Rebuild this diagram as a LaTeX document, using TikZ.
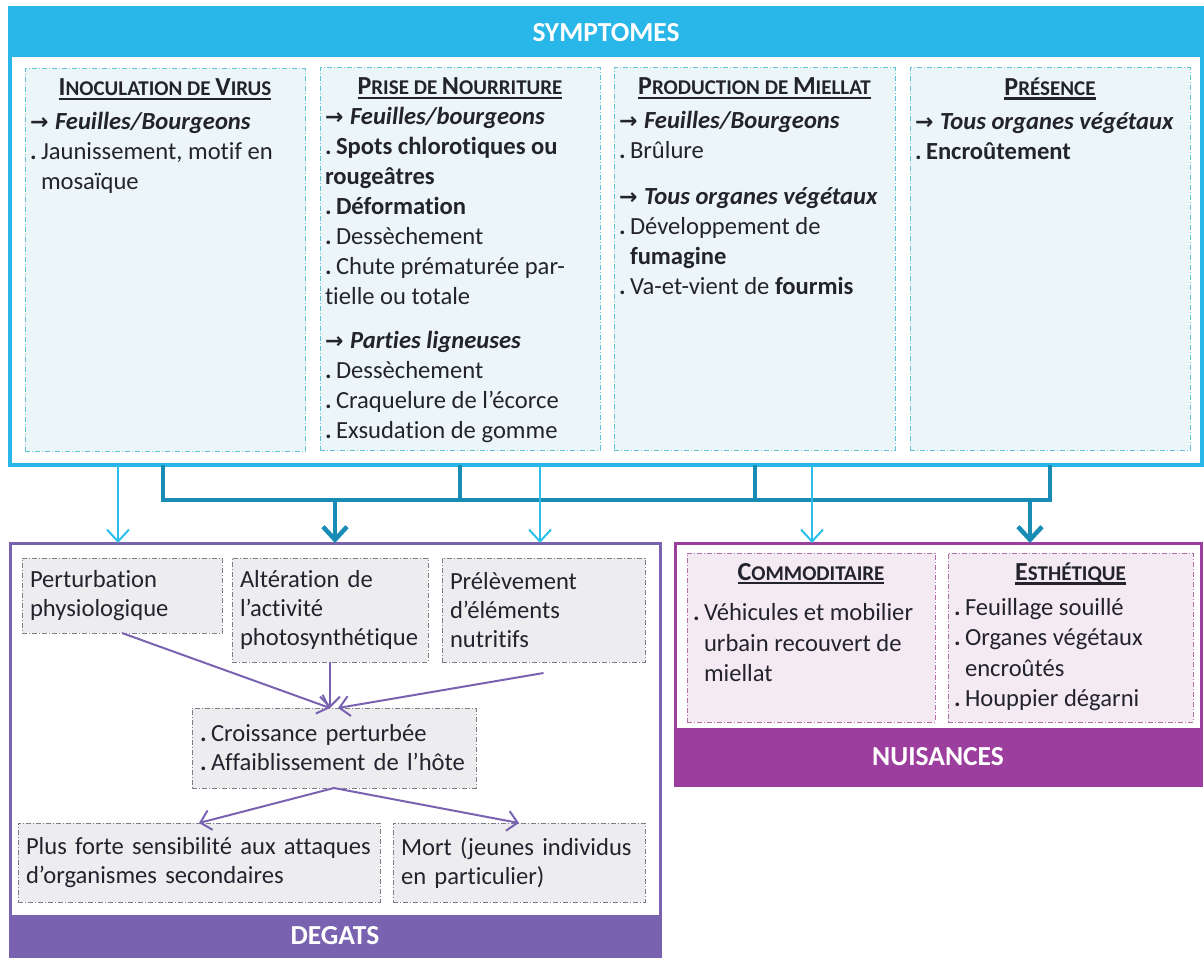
\documentclass[tikz,border=0pt]{standalone}
\usepackage{fontspec}
\setmainfont{Carlito}[Ligatures=NoCommon]
\newfontfamily\arrfont{DejaVu Sans}
\usetikzlibrary{arrows.meta}
\definecolor{symcyan}{RGB}{41,182,232}
\definecolor{arrcyan}{RGB}{45,190,236}
\definecolor{busteal}{RGB}{24,140,180}
\definecolor{symfill}{RGB}{236,246,248}
\definecolor{symline}{RGB}{95,195,215}
\definecolor{degpurple}{RGB}{121,99,176}
\definecolor{degfill}{RGB}{237,237,240}
\definecolor{degline}{RGB}{125,125,135}
\definecolor{nuimag}{RGB}{156,62,158}
\definecolor{nuifill}{RGB}{244,234,241}
\definecolor{nuiline}{RGB}{175,110,165}
\definecolor{textdark}{RGB}{35,35,45}

\newsavebox{\hdgbox}
\newcommand{\hdg}[1]{\sbox\hdgbox{\bfseries\fontsize{26}{28}\selectfont #1}%
  \rlap{\rule[-4pt]{\wd\hdgbox}{2.2pt}}\usebox\hdgbox}
\newcommand{\smc}[1]{{\fontsize{21}{24}\selectfont #1}}
\newcommand{\bul}{\makebox[11pt][l]{\textbf{.}}}
\newcommand{\ind}{\hspace*{11pt}}
\newcommand{\arr}{\makebox[25pt][l]{\arrfont\bfseries\fontsize{22}{24}\selectfont →}}
\newcommand{\cellbox}[3]{\parbox[t][#2][t]{#1}{\raggedright #3}}

\begin{document}
\begin{tikzpicture}[x=1pt,y=-1pt,
    every node/.style={outer sep=0pt},
    symframe/.style={draw=symcyan, line width=4pt, anchor=north west, inner sep=0pt,
      minimum width=1192pt, minimum height=457pt},
    symhead/.style={fill=symcyan, anchor=north west, inner sep=0pt, text=white,
      font=\bfseries\fontsize{27.5}{30}\selectfont, minimum width=1192pt, minimum height=49pt},
    symbox/.style={draw=symline, fill=symfill, dash pattern=on 5pt off 2pt on 1pt off 2pt,
      line width=1pt, anchor=north west, inner xsep=5pt, inner ysep=10pt,
      text=textdark, font=\fontsize{24.6}{30}\selectfont},
    degframe/.style={draw=degpurple, line width=3pt, anchor=north west, inner sep=0pt,
      minimum width=650pt, minimum height=413pt},
    degtitle/.style={fill=degpurple, anchor=north west, inner sep=0pt, text=white,
      font=\bfseries\fontsize{27.5}{30}\selectfont, minimum width=650pt, minimum height=41pt},
    degbox/.style={draw=degline, fill=degfill, dash pattern=on 5pt off 2pt on 1pt off 2pt,
      line width=0.8pt, anchor=north west, align=left, inner xsep=8pt, inner ysep=0pt,
      text=textdark, font=\fontsize{24.6}{29}\selectfont},
    nuiframe/.style={draw=nuimag, line width=3pt, anchor=north west, inner sep=0pt,
      minimum width=526pt, minimum height=242pt},
    nuititle/.style={fill=nuimag, anchor=north west, inner sep=0pt, text=white,
      font=\bfseries\fontsize{27.5}{30}\selectfont, minimum width=526pt, minimum height=57pt},
    nuibox/.style={draw=nuiline, fill=nuifill, dash pattern=on 5pt off 2pt on 1pt off 2pt,
      line width=0.8pt, anchor=north west, inner xsep=6pt, inner ysep=10pt,
      text=textdark, font=\fontsize{24.6}{30.5}\selectfont},
    thinarr/.style={draw=arrcyan, line width=2pt, -{Straight Barb[length=12pt,width=22pt]}},
    bracket/.style={draw=busteal, line width=4.5pt, line join=miter},
    bracketarr/.style={bracket, -{Straight Barb[length=13pt,width=24pt]}},
    degarr/.style={draw=degpurple, line width=2pt, -{Straight Barb[length=10pt,width=20pt]}}]
\useasboundingbox (0,0) rectangle (1204,958);

% SYMPTOMES
\node[symframe] (symptoms) at (10,8) {};
\node[symhead] (symtitle) at (10,8) {SYMPTOMES};

\node[symbox] (virus) at (25,69) {\cellbox{270pt}{362pt}{%
  \makebox[\linewidth]{\hdg{I\smc{NOCULATION DE }V\smc{IRUS}}}\\[4pt]
  \arr\textbf{\textit{Feuilles/Bourgeons}}\\
  \bul Jaunissement, motif en\\
  \ind mosaïque}};

\node[symbox] (prise) at (320,68) {\cellbox{270pt}{362pt}{%
  \makebox[\linewidth]{\hdg{P\smc{RISE DE }N\smc{OURRITURE}}}\\
  \arr\textbf{\textit{Feuilles/bourgeons}}\\
  \bul\textbf{Spots chlorotiques ou}\\
  \textbf{rougeâtres}\\
  \bul\textbf{Déformation}\\
  \bul Dessèchement\\
  \bul Chute prématurée par-\\
  tielle ou totale\\[14pt]
  \arr\textbf{\textit{Parties ligneuses}}\\
  \bul Dessèchement\\
  \bul Craquelure de l’écorce\\
  \bul Exsudation de gomme}};

\node[symbox] (miellat) at (614,68) {\cellbox{271pt}{362pt}{%
  \makebox[\linewidth]{\hdg{P\smc{RODUCTION DE }M\smc{IELLAT}}}\\[4pt]
  \arr\textbf{\textit{Feuilles/Bourgeons}}\\
  \bul Brûlure\\[16pt]
  \arr\textbf{\textit{Tous organes végétaux}}\\
  \bul Développement de\\
  \ind\textbf{fumagine}\\
  \bul Va-et-vient de \textbf{fourmis}}};

\node[symbox] (presence) at (910,68) {\cellbox{270pt}{362pt}{%
  \makebox[\linewidth]{\hdg{P\smc{RÉSENCE}}}\\[4pt]
  \arr\textbf{\textit{Tous organes végétaux}}\\
  \bul\textbf{Encroûtement}}};

% DEGATS
\node[degframe] (degats) at (10,543) {};
\node[degtitle] (degtitle) at (10,915) {DEGATS};

\node[degbox, text width=184pt, minimum height=75pt] (perturb) at (22,558)
  {Perturbation\\physiologique};
\node[degbox, text width=180pt, minimum height=104pt] (alter) at (232,558)
  {Altération de\\l’activité\\photosynthétique};
\node[degbox, text width=187pt, minimum height=104pt] (prelev) at (442,558)
  {Prélèvement\\d’éléments\\nutritifs};
\node[degbox, text width=268pt, minimum height=80pt] (croiss) at (192,708)
  {\bul Croissance perturbée\\\bul Affaiblissement de l’hôte};
\node[degbox, text width=346pt, minimum height=79pt] (sensib) at (18,823)
  {Plus forte sensibilité aux attaques\\d’organismes secondaires};
\node[degbox, text width=236pt, minimum height=79pt] (mort) at (393,823)
  {Mort (jeunes individus\\en particulier)};

% NUISANCES
\node[nuiframe] (nuisances) at (675,543) {};
\node[nuititle] (nuititle) at (675,728) {NUISANCES};

\node[nuibox] (commod) at (687,553) {\cellbox{236pt}{149pt}{%
  \makebox[\linewidth]{\hdg{C\smc{OMMODITAIRE}}}\\[10pt]
  \bul Véhicules et mobilier\\
  \ind urbain recouvert de\\
  \ind miellat}};
\node[nuibox] (esthet) at (948,553) {\cellbox{233pt}{149pt}{%
  \makebox[\linewidth]{\hdg{E\smc{STHÉTIQUE}}}\\[4pt]
  \bul Feuillage souillé\\
  \bul Organes végétaux\\
  \ind encroûtés\\
  \bul Houppier dégarni}};

% liaisons
\coordinate (busA) at ([xshift=153pt]symptoms.south west);
\coordinate (busB) at ([xshift=450pt]symptoms.south west);
\coordinate (busC) at ([xshift=745pt]symptoms.south west);
\coordinate (busD) at ([xshift=1040pt]symptoms.south west);
\coordinate (busY) at ([yshift=-35pt]symptoms.south);
\coordinate (nuiIn) at ([xshift=355pt]nuisances.north west);
\draw[bracket] (busA) |- (busY -| busD) -- (busD);
\draw[bracket] (busB) -- (busB |- busY);
\draw[bracket] (busC) -- (busC |- busY);
\draw[bracketarr] (busY -| degats.north) -- (degats.north);
\draw[bracketarr] (busY -| nuiIn) -- (nuiIn);

\coordinate (tapA) at ([xshift=108pt]symptoms.south west);
\coordinate (tapB) at ([xshift=530pt]symptoms.south west);
\coordinate (tapC) at ([xshift=802pt]symptoms.south west);
\draw[thinarr] (tapA) -- (tapA |- degats.north);
\draw[thinarr] (tapB) -- (tapB |- degats.north);
\draw[thinarr] (tapC) -- (tapC |- nuisances.north);

\draw[degarr] (perturb.south) -- ([xshift=-4pt]croiss.north);
\draw[degarr] (alter.south) -- (alter.south |- croiss.north);
\draw[degarr] ([yshift=-11pt]prelev.south) -- ([xshift=4pt]croiss.north);
\draw[degarr] (croiss.south) -- (sensib.north);
\draw[degarr] (croiss.south) -- (mort.north);
\end{tikzpicture}
\end{document}
